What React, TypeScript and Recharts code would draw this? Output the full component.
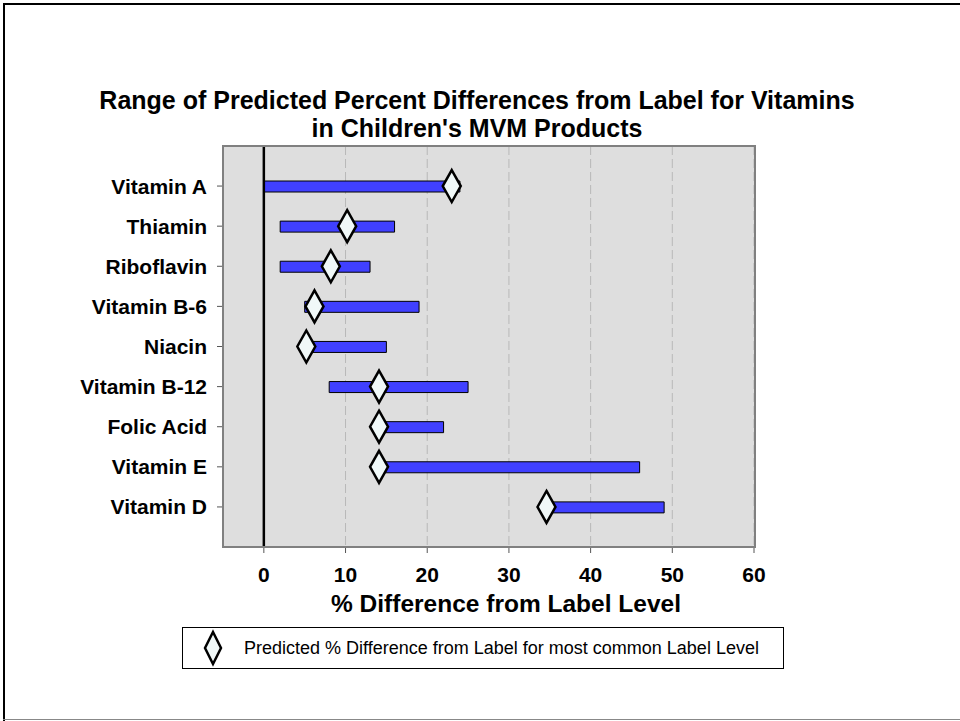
import React from "react";
import {
  ComposedChart,
  Bar,
  Scatter,
  XAxis,
  YAxis,
  CartesianGrid,
  ReferenceLine,
} from "recharts";

const FONT = "'Liberation Sans', Arial, Helvetica, sans-serif";

// vitamins listed top to bottom
const vitamins = [
  "Vitamin A",
  "Thiamin",
  "Riboflavin",
  "Vitamin B-6",
  "Niacin",
  "Vitamin B-12",
  "Folic Acid",
  "Vitamin E",
  "Vitamin D",
];

// low / high end of the predicted % difference range
const rangeLow = [0, 2, 2, 5, 6, 8, 13.5, 14, 34.5];
const rangeHigh = [24, 16, 13, 19, 15, 25, 22, 46, 49];

// predicted % difference at the most common label level
const predicted = [23, 10.2, 8.2, 6.2, 5.2, 14.1, 14.1, 14.1, 34.6];

const xTicks = [0, 10, 20, 30, 40, 50, 60];

const rows = vitamins.map((name, i) => ({
  name,
  range: [rangeLow[i], rangeHigh[i]],
  predicted: predicted[i],
}));

function Diamond(props: any) {
  const { cx, cy } = props;
  if (cx == null || cy == null) return null;
  return (
    <polygon
      points={`${cx},${cy - 16} ${cx + 9},${cy} ${cx},${cy + 16} ${cx - 9},${cy}`}
      fill="#F0F8F8"
      stroke="#000"
      strokeWidth={2.5}
      strokeLinejoin="miter"
    />
  );
}

export default function App() {
  return (
    <div
      style={{
        position: "absolute",
        left: 0,
        top: 0,
        width: 960,
        height: 721,
        background: "#fff",
        fontFamily: FONT,
      }}
    >
      {/* frame */}
      <div style={{ position: "absolute", left: 3, top: 3, width: 957, height: 2, background: "#000" }} />
      <div style={{ position: "absolute", left: 3, top: 3, width: 2, height: 718, background: "#000" }} />
      <div style={{ position: "absolute", left: 3, top: 719, width: 957, height: 1, background: "#888" }} />

      <div
        style={{
          position: "absolute",
          left: 0,
          top: 86,
          width: 954,
          textAlign: "center",
          fontSize: 25,
          lineHeight: "28px",
          fontWeight: 700,
          color: "#000",
        }}
      >
        Range of Predicted Percent Differences from Label for Vitamins
        <br />
        in Children's MVM Products
      </div>

      <div style={{ position: "absolute", left: 0, top: 0 }}>
        <ComposedChart
          layout="vertical"
          width={960}
          height={721}
          data={rows}
          margin={{ top: 146, right: 206, bottom: 134, left: 0 }}
        >
          <CartesianGrid
            horizontal={false}
            fill="#DEDEDE"
            fillOpacity={1}
            stroke="#B8B8B8"
            strokeDasharray="9 4"
          />
          <XAxis
            type="number"
            domain={[-5, 60]}
            ticks={xTicks}
            allowDataOverflow
            height={40}
            tickSize={6}
            tickMargin={14}
            axisLine={{ stroke: "#808080", strokeWidth: 2 }}
            tickLine={{ stroke: "#555" }}
            tick={{ fontSize: 21, fontWeight: 700, fill: "#000", fontFamily: FONT }}
          />
          <YAxis
            type="category"
            dataKey="name"
            width={223}
            padding={{ top: 20, bottom: 20 }}
            tickSize={6}
            tickMargin={10}
            axisLine={{ stroke: "#808080", strokeWidth: 2 }}
            tickLine={{ stroke: "#555" }}
            tick={{ fontSize: 21, fontWeight: 700, fill: "#000", fontFamily: FONT }}
            interval={0}
          />
          <ReferenceLine x={0} stroke="#000" strokeWidth={2.5} />
          <Bar
            dataKey="range"
            barSize={11}
            fill="#4040FF"
            stroke="#000"
            strokeWidth={1}
            isAnimationActive={false}
          />
          <Scatter dataKey="predicted" shape={Diamond} isAnimationActive={false} />
        </ComposedChart>
      </div>

      {/* plot area border */}
      <div
        style={{
          position: "absolute",
          left: 222,
          top: 145,
          width: 534,
          height: 403,
          border: "2px solid #808080",
          boxSizing: "border-box",
          pointerEvents: "none",
        }}
      />

      <div
        style={{
          position: "absolute",
          left: 0,
          top: 590,
          width: 1012,
          textAlign: "center",
          fontSize: 24.5,
          fontWeight: 700,
          lineHeight: "28px",
          color: "#000",
        }}
      >
        % Difference from Label Level
      </div>

      {/* legend */}
      <div
        style={{
          position: "absolute",
          left: 182,
          top: 627,
          width: 602,
          height: 42,
          border: "1px solid #000",
          boxSizing: "border-box",
          display: "flex",
          alignItems: "center",
        }}
      >
        <svg width={60} height={40} style={{ display: "block" }}>
          <polygon points="30,4 38,20 30,36 22,20" fill="#F0F8F8" stroke="#000" strokeWidth={2.5} />
        </svg>
        <span style={{ fontSize: 18, color: "#000", marginLeft: 1 }}>
          Predicted % Difference from Label for most common Label Level
        </span>
      </div>
    </div>
  );
}
